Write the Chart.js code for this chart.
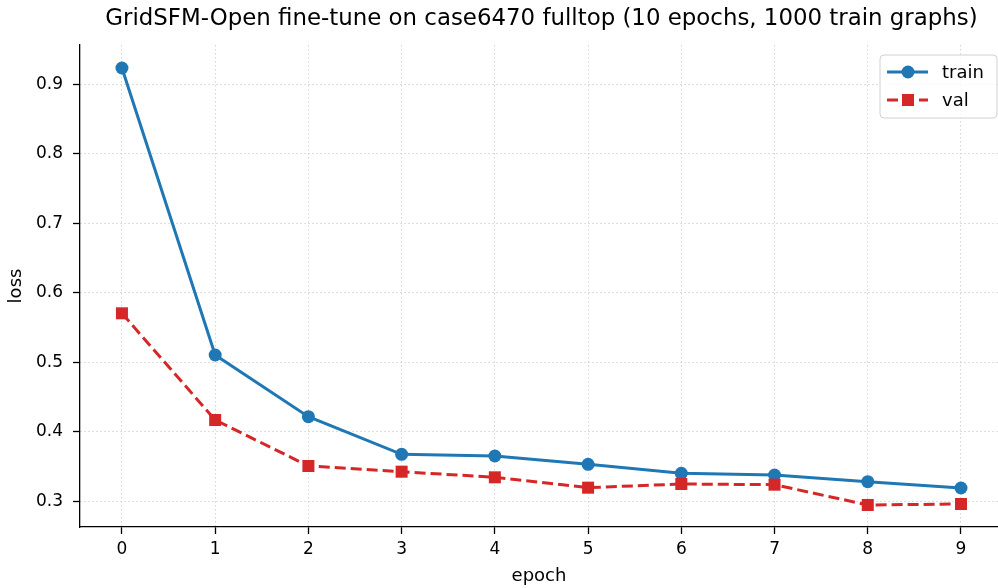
<!DOCTYPE html>
<html>
<head>
<meta charset="utf-8">
<script src="https://cdn.jsdelivr.net/npm/chart.js@4/dist/chart.umd.min.js"></script>
<style>
  html, body { margin: 0; padding: 0; background: #fff; overflow: hidden; }
  #graph { display: block; }
</style>
</head>
<body>
<canvas id="graph" width="998" height="588"></canvas>
<script>
// data
const epochs = [0, 1, 2, 3, 4, 5, 6, 7, 8, 9];
const trainLoss = [0.9235, 0.5105, 0.4217, 0.3676, 0.3652, 0.3532, 0.3403, 0.3378, 0.3282, 0.3191];
const valLoss = [0.5705, 0.4170, 0.3508, 0.3426, 0.3345, 0.3196, 0.3249, 0.3239, 0.2947, 0.2961];
const xTicks = [0, 1, 2, 3, 4, 5, 6, 7, 8, 9];
const yTicks = [0.3, 0.4, 0.5, 0.6, 0.7, 0.8, 0.9];
const titleText = "GridSFM-Open fine-tune on case6470 fulltop (10 epochs, 1000 train graphs)";

const FONT = "'DejaVu Sans', sans-serif";
const BLUE = "#1f77b4";
const RED = "#d62728";

// title + matplotlib-style legend box
const extras = {
  id: "extras",
  afterDraw(chart) {
    const ctx = chart.ctx;
    ctx.save();
    ctx.fillStyle = "#000";
    // fit the title to the width it has in the reference (105..978)
    ctx.font = "20px " + FONT;
    const w = ctx.measureText(titleText).width;
    const size = Math.min(24, 20 * 873 / w);
    ctx.font = size.toFixed(2) + "px " + FONT;
    ctx.textAlign = "center";
    ctx.textBaseline = "middle";
    ctx.fillText(titleText, 541.5, 19);

    // legend
    const bx = 880, by = 55, bw = 117, bh = 63;
    ctx.beginPath();
    ctx.roundRect(bx, by, bw, bh, 4);
    ctx.fillStyle = "rgba(255,255,255,0.8)";
    ctx.fill();
    ctx.strokeStyle = "#d0d0d0";
    ctx.lineWidth = 1;
    ctx.stroke();

    chart.data.datasets.forEach((ds, i) => {
      const y = 72 + i * 28;
      ctx.strokeStyle = ds.borderColor;
      ctx.lineWidth = ds.borderWidth;
      ctx.setLineDash(ds.borderDash || []);
      ctx.beginPath();
      ctx.moveTo(887, y);
      ctx.lineTo(928, y);
      ctx.stroke();
      ctx.setLineDash([]);
      ctx.fillStyle = ds.borderColor;
      if (ds.pointStyle === "rect") {
        ctx.fillRect(908 - 6, y - 6, 12, 12);
      } else {
        ctx.beginPath();
        ctx.arc(908, y, 6.5, 0, Math.PI * 2);
        ctx.fill();
      }
      ctx.fillStyle = "#000";
      ctx.font = "18px " + FONT;
      ctx.textAlign = "left";
      ctx.fillText(ds.label, 942, y + 1);
    });
    ctx.restore();
  }
};

const ctx = document.getElementById("graph").getContext("2d");
const chart = new Chart(ctx, {
  type: "line",
  data: {
    datasets: [{
      label: "train",
      data: epochs.map((e, i) => ({ x: e, y: trainLoss[i] })),
      borderColor: BLUE,
      backgroundColor: BLUE,
      borderWidth: 3,
      pointStyle: "circle",
      pointRadius: 6.5,
      pointBorderWidth: 0,
      order: 1
    }, {
      label: "val",
      data: epochs.map((e, i) => ({ x: e, y: valLoss[i] })),
      borderColor: RED,
      backgroundColor: RED,
      borderWidth: 3,
      borderDash: [11, 5],
      pointStyle: "rect",
      pointRadius: 8.5,
      pointBorderWidth: 0,
      order: 0
    }]
  },
  options: {
    responsive: false,
    animation: false,
    devicePixelRatio: 1,
    layout: { autoPadding: false, padding: { top: 45, right: 0, left: 0, bottom: 0 } },
    plugins: {
      legend: { display: false },
      title: { display: false },
      tooltip: { enabled: false }
    },
    scales: {
      x: {
        type: "linear",
        min: -0.45,
        max: 9.397,
        afterBuildTicks: s => { s.ticks = xTicks.map(v => ({ value: v })); },
        afterFit: s => { s.height = 61; },
        ticks: {
          color: "#000",
          font: { family: FONT, size: 17 },
          padding: 5,
          maxRotation: 0,
          callback: v => String(v)
        },
        grid: {
          color: "#d4d4d4",
          lineWidth: 1,
          tickLength: 7,
          tickColor: "#000",
          tickWidth: 1.3
        },
        border: { color: "#000", width: 1.3, dash: [1.5, 2.5] },
        title: {
          display: true,
          text: "epoch",
          color: "#000",
          font: { family: FONT, size: 18 },
          padding: { top: 0, bottom: 1 }
        }
      },
      y: {
        type: "linear",
        min: 0.263,
        max: 0.9566,
        afterBuildTicks: s => { s.ticks = yTicks.map(v => ({ value: v })); },
        afterFit: s => { s.width = 80; },
        ticks: {
          color: "#000",
          font: { family: FONT, size: 17 },
          padding: 10,
          callback: v => v.toFixed(1)
        },
        grid: {
          color: "#d4d4d4",
          lineWidth: 1,
          tickLength: 7,
          tickColor: "#000",
          tickWidth: 1.3
        },
        border: { color: "#000", width: 1.3, dash: [1.5, 2.5] },
        title: {
          display: true,
          text: "loss",
          color: "#000",
          font: { family: FONT, size: 18 },
          padding: { top: 6, bottom: 0 }
        }
      }
    }
  },
  plugins: [extras]
});
</script>
</body>
</html>
